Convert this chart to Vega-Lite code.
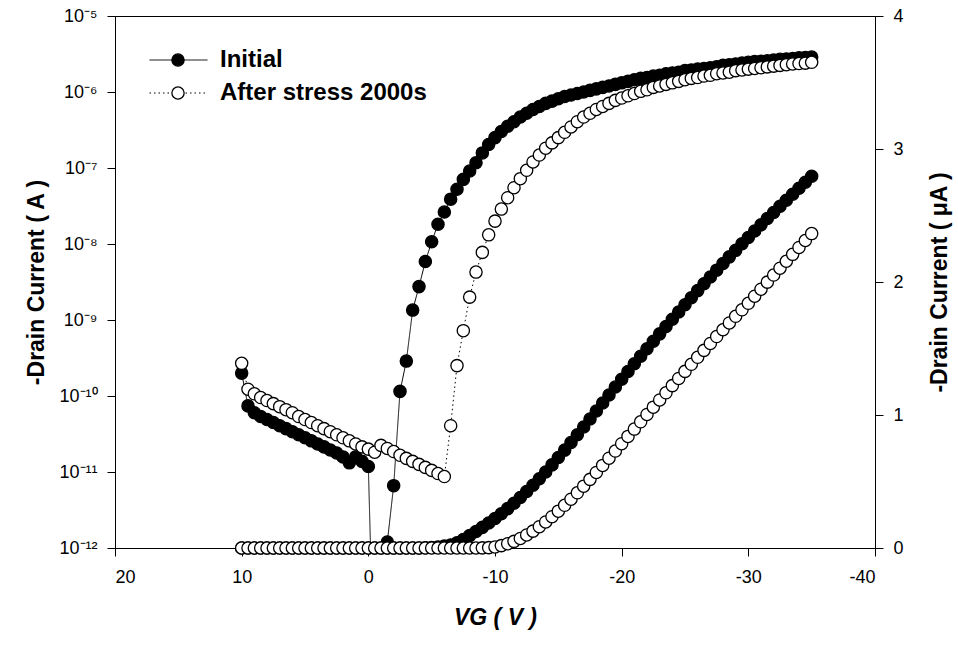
{
 "$schema": "https://vega.github.io/schema/vega-lite/v6.json",
 "width": 760,
 "height": 532,
 "autosize": {"type": "none"},
 "padding": {"left": 115, "top": 16, "right": 83, "bottom": 100},
 "background": "white",
 "config": {
  "font": "Liberation Sans",
  "view": {"stroke": "black", "strokeWidth": 1},
  "axis": {"grid": false, "domainColor": "black", "tickColor": "black", "labelColor": "black", "titleColor": "black", "tickSize": 8, "labelFontSize": 18, "titleFontSize": 23, "titleFontWeight": "bold", "labelPadding": 10, "labelFont": "Liberation Sans", "titleFont": "Liberation Sans"},
  "legend": {"padding": 0}
 },
 "data": {"values": [
  {"vg":10,"series":"Initial","ilog":2.00e-10,"ilin":0},
  {"vg":9.5,"series":"Initial","ilog":7.41e-11,"ilin":0},
  {"vg":9,"series":"Initial","ilog":6.03e-11,"ilin":0},
  {"vg":8.5,"series":"Initial","ilog":5.37e-11,"ilin":0},
  {"vg":8,"series":"Initial","ilog":4.90e-11,"ilin":0},
  {"vg":7.5,"series":"Initial","ilog":4.47e-11,"ilin":0},
  {"vg":7,"series":"Initial","ilog":4.07e-11,"ilin":0},
  {"vg":6.5,"series":"Initial","ilog":3.72e-11,"ilin":0},
  {"vg":6,"series":"Initial","ilog":3.39e-11,"ilin":0},
  {"vg":5.5,"series":"Initial","ilog":3.09e-11,"ilin":0},
  {"vg":5,"series":"Initial","ilog":2.82e-11,"ilin":0},
  {"vg":4.5,"series":"Initial","ilog":2.57e-11,"ilin":0},
  {"vg":4,"series":"Initial","ilog":2.34e-11,"ilin":0},
  {"vg":3.5,"series":"Initial","ilog":2.14e-11,"ilin":0},
  {"vg":3,"series":"Initial","ilog":1.95e-11,"ilin":0},
  {"vg":2.5,"series":"Initial","ilog":1.78e-11,"ilin":0},
  {"vg":2,"series":"Initial","ilog":1.58e-11,"ilin":0},
  {"vg":1.5,"series":"Initial","ilog":1.32e-11,"ilin":0},
  {"vg":1,"series":"Initial","ilog":1.58e-11,"ilin":0},
  {"vg":0.5,"series":"Initial","ilog":1.38e-11,"ilin":0},
  {"vg":0,"series":"Initial","ilog":1.18e-11,"ilin":0},
  {"vg":-0.5,"series":"Initial","ilog":1e-14,"ilin":0},
  {"vg":-1,"series":"Initial","ilog":1e-14,"ilin":0},
  {"vg":-1.5,"series":"Initial","ilog":1.20e-12,"ilin":0},
  {"vg":-2,"series":"Initial","ilog":6.61e-12,"ilin":0},
  {"vg":-2.5,"series":"Initial","ilog":1.15e-10,"ilin":0},
  {"vg":-3,"series":"Initial","ilog":2.88e-10,"ilin":0},
  {"vg":-3.5,"series":"Initial","ilog":1.35e-9,"ilin":0},
  {"vg":-4,"series":"Initial","ilog":2.75e-9,"ilin":0},
  {"vg":-4.5,"series":"Initial","ilog":5.89e-9,"ilin":0.002},
  {"vg":-5,"series":"Initial","ilog":1.07e-8,"ilin":0.004},
  {"vg":-5.5,"series":"Initial","ilog":1.82e-8,"ilin":0.008},
  {"vg":-6,"series":"Initial","ilog":2.63e-8,"ilin":0.014},
  {"vg":-6.5,"series":"Initial","ilog":3.89e-8,"ilin":0.023},
  {"vg":-7,"series":"Initial","ilog":5.25e-8,"ilin":0.040},
  {"vg":-7.5,"series":"Initial","ilog":7.08e-8,"ilin":0.064},
  {"vg":-8,"series":"Initial","ilog":9.12e-8,"ilin":0.093},
  {"vg":-8.5,"series":"Initial","ilog":1.17e-7,"ilin":0.124},
  {"vg":-9,"series":"Initial","ilog":1.58e-7,"ilin":0.155},
  {"vg":-9.5,"series":"Initial","ilog":2.04e-7,"ilin":0.188},
  {"vg":-10,"series":"Initial","ilog":2.51e-7,"ilin":0.222},
  {"vg":-10.5,"series":"Initial","ilog":3.02e-7,"ilin":0.258},
  {"vg":-11,"series":"Initial","ilog":3.55e-7,"ilin":0.296},
  {"vg":-11.5,"series":"Initial","ilog":4.07e-7,"ilin":0.337},
  {"vg":-12,"series":"Initial","ilog":4.68e-7,"ilin":0.380},
  {"vg":-12.5,"series":"Initial","ilog":5.25e-7,"ilin":0.425},
  {"vg":-13,"series":"Initial","ilog":5.89e-7,"ilin":0.472},
  {"vg":-13.5,"series":"Initial","ilog":6.46e-7,"ilin":0.521},
  {"vg":-14,"series":"Initial","ilog":7.08e-7,"ilin":0.572},
  {"vg":-14.5,"series":"Initial","ilog":7.59e-7,"ilin":0.625},
  {"vg":-15,"series":"Initial","ilog":8.13e-7,"ilin":0.680},
  {"vg":-15.5,"series":"Initial","ilog":8.71e-7,"ilin":0.736},
  {"vg":-16,"series":"Initial","ilog":9.12e-7,"ilin":0.793},
  {"vg":-16.5,"series":"Initial","ilog":9.55e-7,"ilin":0.851},
  {"vg":-17,"series":"Initial","ilog":1.00e-6,"ilin":0.910},
  {"vg":-17.5,"series":"Initial","ilog":1.05e-6,"ilin":0.970},
  {"vg":-18,"series":"Initial","ilog":1.10e-6,"ilin":1.030},
  {"vg":-18.5,"series":"Initial","ilog":1.15e-6,"ilin":1.090},
  {"vg":-19,"series":"Initial","ilog":1.20e-6,"ilin":1.150},
  {"vg":-19.5,"series":"Initial","ilog":1.26e-6,"ilin":1.210},
  {"vg":-20,"series":"Initial","ilog":1.32e-6,"ilin":1.269},
  {"vg":-20.5,"series":"Initial","ilog":1.38e-6,"ilin":1.327},
  {"vg":-21,"series":"Initial","ilog":1.45e-6,"ilin":1.385},
  {"vg":-21.5,"series":"Initial","ilog":1.51e-6,"ilin":1.442},
  {"vg":-22,"series":"Initial","ilog":1.55e-6,"ilin":1.498},
  {"vg":-22.5,"series":"Initial","ilog":1.62e-6,"ilin":1.554},
  {"vg":-23,"series":"Initial","ilog":1.66e-6,"ilin":1.610},
  {"vg":-23.5,"series":"Initial","ilog":1.74e-6,"ilin":1.665},
  {"vg":-24,"series":"Initial","ilog":1.78e-6,"ilin":1.720},
  {"vg":-24.5,"series":"Initial","ilog":1.82e-6,"ilin":1.775},
  {"vg":-25,"series":"Initial","ilog":1.91e-6,"ilin":1.829},
  {"vg":-25.5,"series":"Initial","ilog":1.95e-6,"ilin":1.882},
  {"vg":-26,"series":"Initial","ilog":2.00e-6,"ilin":1.935},
  {"vg":-26.5,"series":"Initial","ilog":2.04e-6,"ilin":1.987},
  {"vg":-27,"series":"Initial","ilog":2.09e-6,"ilin":2.038},
  {"vg":-27.5,"series":"Initial","ilog":2.14e-6,"ilin":2.089},
  {"vg":-28,"series":"Initial","ilog":2.24e-6,"ilin":2.139},
  {"vg":-28.5,"series":"Initial","ilog":2.29e-6,"ilin":2.189},
  {"vg":-29,"series":"Initial","ilog":2.34e-6,"ilin":2.238},
  {"vg":-29.5,"series":"Initial","ilog":2.40e-6,"ilin":2.287},
  {"vg":-30,"series":"Initial","ilog":2.46e-6,"ilin":2.335},
  {"vg":-30.5,"series":"Initial","ilog":2.51e-6,"ilin":2.383},
  {"vg":-31,"series":"Initial","ilog":2.54e-6,"ilin":2.430},
  {"vg":-31.5,"series":"Initial","ilog":2.57e-6,"ilin":2.477},
  {"vg":-32,"series":"Initial","ilog":2.63e-6,"ilin":2.523},
  {"vg":-32.5,"series":"Initial","ilog":2.69e-6,"ilin":2.569},
  {"vg":-33,"series":"Initial","ilog":2.72e-6,"ilin":2.615},
  {"vg":-33.5,"series":"Initial","ilog":2.75e-6,"ilin":2.660},
  {"vg":-34,"series":"Initial","ilog":2.82e-6,"ilin":2.705},
  {"vg":-34.5,"series":"Initial","ilog":2.85e-6,"ilin":2.750},
  {"vg":-35,"series":"Initial","ilog":2.88e-6,"ilin":2.795},
  {"vg":10,"series":"After stress 2000s","ilog":2.69e-10,"ilin":0},
  {"vg":9.5,"series":"After stress 2000s","ilog":1.23e-10,"ilin":0},
  {"vg":9,"series":"After stress 2000s","ilog":1.07e-10,"ilin":0},
  {"vg":8.5,"series":"After stress 2000s","ilog":9.55e-11,"ilin":0},
  {"vg":8,"series":"After stress 2000s","ilog":8.71e-11,"ilin":0},
  {"vg":7.5,"series":"After stress 2000s","ilog":7.94e-11,"ilin":0},
  {"vg":7,"series":"After stress 2000s","ilog":7.24e-11,"ilin":0},
  {"vg":6.5,"series":"After stress 2000s","ilog":6.61e-11,"ilin":0},
  {"vg":6,"series":"After stress 2000s","ilog":6.03e-11,"ilin":0},
  {"vg":5.5,"series":"After stress 2000s","ilog":5.37e-11,"ilin":0},
  {"vg":5,"series":"After stress 2000s","ilog":4.90e-11,"ilin":0},
  {"vg":4.5,"series":"After stress 2000s","ilog":4.47e-11,"ilin":0},
  {"vg":4,"series":"After stress 2000s","ilog":4.07e-11,"ilin":0},
  {"vg":3.5,"series":"After stress 2000s","ilog":3.72e-11,"ilin":0},
  {"vg":3,"series":"After stress 2000s","ilog":3.39e-11,"ilin":0},
  {"vg":2.5,"series":"After stress 2000s","ilog":3.09e-11,"ilin":0},
  {"vg":2,"series":"After stress 2000s","ilog":2.82e-11,"ilin":0},
  {"vg":1.5,"series":"After stress 2000s","ilog":2.57e-11,"ilin":0},
  {"vg":1,"series":"After stress 2000s","ilog":2.34e-11,"ilin":0},
  {"vg":0.5,"series":"After stress 2000s","ilog":2.14e-11,"ilin":0},
  {"vg":0,"series":"After stress 2000s","ilog":2.00e-11,"ilin":0},
  {"vg":-0.5,"series":"After stress 2000s","ilog":1.82e-11,"ilin":0},
  {"vg":-1,"series":"After stress 2000s","ilog":2.24e-11,"ilin":0},
  {"vg":-1.5,"series":"After stress 2000s","ilog":2.04e-11,"ilin":0},
  {"vg":-2,"series":"After stress 2000s","ilog":1.86e-11,"ilin":0},
  {"vg":-2.5,"series":"After stress 2000s","ilog":1.66e-11,"ilin":0},
  {"vg":-3,"series":"After stress 2000s","ilog":1.51e-11,"ilin":0},
  {"vg":-3.5,"series":"After stress 2000s","ilog":1.38e-11,"ilin":0},
  {"vg":-4,"series":"After stress 2000s","ilog":1.26e-11,"ilin":0},
  {"vg":-4.5,"series":"After stress 2000s","ilog":1.15e-11,"ilin":0},
  {"vg":-5,"series":"After stress 2000s","ilog":1.05e-11,"ilin":0},
  {"vg":-5.5,"series":"After stress 2000s","ilog":9.55e-12,"ilin":0},
  {"vg":-6,"series":"After stress 2000s","ilog":8.71e-12,"ilin":0},
  {"vg":-6.5,"series":"After stress 2000s","ilog":4.07e-11,"ilin":0},
  {"vg":-7,"series":"After stress 2000s","ilog":2.51e-10,"ilin":0},
  {"vg":-7.5,"series":"After stress 2000s","ilog":7.24e-10,"ilin":0},
  {"vg":-8,"series":"After stress 2000s","ilog":2.00e-9,"ilin":0},
  {"vg":-8.5,"series":"After stress 2000s","ilog":4.27e-9,"ilin":0},
  {"vg":-9,"series":"After stress 2000s","ilog":7.76e-9,"ilin":0.001},
  {"vg":-9.5,"series":"After stress 2000s","ilog":1.32e-8,"ilin":0.003},
  {"vg":-10,"series":"After stress 2000s","ilog":2.00e-8,"ilin":0.008},
  {"vg":-10.5,"series":"After stress 2000s","ilog":2.88e-8,"ilin":0.018},
  {"vg":-11,"series":"After stress 2000s","ilog":4.07e-8,"ilin":0.032},
  {"vg":-11.5,"series":"After stress 2000s","ilog":5.50e-8,"ilin":0.050},
  {"vg":-12,"series":"After stress 2000s","ilog":7.24e-8,"ilin":0.072},
  {"vg":-12.5,"series":"After stress 2000s","ilog":9.33e-8,"ilin":0.098},
  {"vg":-13,"series":"After stress 2000s","ilog":1.20e-7,"ilin":0.127},
  {"vg":-13.5,"series":"After stress 2000s","ilog":1.48e-7,"ilin":0.160},
  {"vg":-14,"series":"After stress 2000s","ilog":1.82e-7,"ilin":0.196},
  {"vg":-14.5,"series":"After stress 2000s","ilog":2.14e-7,"ilin":0.235},
  {"vg":-15,"series":"After stress 2000s","ilog":2.51e-7,"ilin":0.277},
  {"vg":-15.5,"series":"After stress 2000s","ilog":2.95e-7,"ilin":0.321},
  {"vg":-16,"series":"After stress 2000s","ilog":3.47e-7,"ilin":0.367},
  {"vg":-16.5,"series":"After stress 2000s","ilog":4.07e-7,"ilin":0.415},
  {"vg":-17,"series":"After stress 2000s","ilog":4.68e-7,"ilin":0.465},
  {"vg":-17.5,"series":"After stress 2000s","ilog":5.25e-7,"ilin":0.516},
  {"vg":-18,"series":"After stress 2000s","ilog":5.89e-7,"ilin":0.568},
  {"vg":-18.5,"series":"After stress 2000s","ilog":6.46e-7,"ilin":0.621},
  {"vg":-19,"series":"After stress 2000s","ilog":7.08e-7,"ilin":0.675},
  {"vg":-19.5,"series":"After stress 2000s","ilog":7.76e-7,"ilin":0.729},
  {"vg":-20,"series":"After stress 2000s","ilog":8.32e-7,"ilin":0.784},
  {"vg":-20.5,"series":"After stress 2000s","ilog":8.91e-7,"ilin":0.839},
  {"vg":-21,"series":"After stress 2000s","ilog":9.55e-7,"ilin":0.894},
  {"vg":-21.5,"series":"After stress 2000s","ilog":1.02e-6,"ilin":0.949},
  {"vg":-22,"series":"After stress 2000s","ilog":1.07e-6,"ilin":1.004},
  {"vg":-22.5,"series":"After stress 2000s","ilog":1.15e-6,"ilin":1.059},
  {"vg":-23,"series":"After stress 2000s","ilog":1.20e-6,"ilin":1.113},
  {"vg":-23.5,"series":"After stress 2000s","ilog":1.26e-6,"ilin":1.167},
  {"vg":-24,"series":"After stress 2000s","ilog":1.32e-6,"ilin":1.221},
  {"vg":-24.5,"series":"After stress 2000s","ilog":1.38e-6,"ilin":1.275},
  {"vg":-25,"series":"After stress 2000s","ilog":1.45e-6,"ilin":1.328},
  {"vg":-25.5,"series":"After stress 2000s","ilog":1.51e-6,"ilin":1.381},
  {"vg":-26,"series":"After stress 2000s","ilog":1.55e-6,"ilin":1.434},
  {"vg":-26.5,"series":"After stress 2000s","ilog":1.62e-6,"ilin":1.486},
  {"vg":-27,"series":"After stress 2000s","ilog":1.66e-6,"ilin":1.538},
  {"vg":-27.5,"series":"After stress 2000s","ilog":1.74e-6,"ilin":1.590},
  {"vg":-28,"series":"After stress 2000s","ilog":1.78e-6,"ilin":1.641},
  {"vg":-28.5,"series":"After stress 2000s","ilog":1.82e-6,"ilin":1.692},
  {"vg":-29,"series":"After stress 2000s","ilog":1.91e-6,"ilin":1.742},
  {"vg":-29.5,"series":"After stress 2000s","ilog":1.95e-6,"ilin":1.791},
  {"vg":-30,"series":"After stress 2000s","ilog":2.00e-6,"ilin":1.840},
  {"vg":-30.5,"series":"After stress 2000s","ilog":2.04e-6,"ilin":1.893},
  {"vg":-31,"series":"After stress 2000s","ilog":2.09e-6,"ilin":1.946},
  {"vg":-31.5,"series":"After stress 2000s","ilog":2.14e-6,"ilin":1.999},
  {"vg":-32,"series":"After stress 2000s","ilog":2.19e-6,"ilin":2.052},
  {"vg":-32.5,"series":"After stress 2000s","ilog":2.24e-6,"ilin":2.104},
  {"vg":-33,"series":"After stress 2000s","ilog":2.29e-6,"ilin":2.156},
  {"vg":-33.5,"series":"After stress 2000s","ilog":2.34e-6,"ilin":2.208},
  {"vg":-34,"series":"After stress 2000s","ilog":2.37e-6,"ilin":2.260},
  {"vg":-34.5,"series":"After stress 2000s","ilog":2.40e-6,"ilin":2.312},
  {"vg":-35,"series":"After stress 2000s","ilog":2.46e-6,"ilin":2.364}
 ]},
 "encoding": {
  "x": {"field": "vg", "type": "quantitative",
   "scale": {"domain": [-40, 20], "reverse": true, "nice": false, "zero": false},
   "axis": {"values": [20, 10, 0, -10, -20, -30, -40], "labelExpr": "toString(datum.value)", "labelPadding": 12, "title": "VG ( V )", "titleFontStyle": "italic", "titlePadding": 20}}
 },
 "layer": [
  {
   "layer": [
    {
     "mark": {"type": "line", "clip": true, "color": "black", "strokeWidth": 1},
     "encoding": {
      "y": {"field": "ilog", "type": "quantitative",
       "scale": {"type": "log", "domain": [1e-12, 1e-5], "nice": false},
       "axis": {"orient": "left", "values": [1e-12, 1e-11, 1e-10, 1e-9, 1e-8, 1e-7, 1e-6, 1e-5],
        "labelExpr": "datum.value > 5e-6 ? '10⁻⁵' : datum.value > 5e-7 ? '10⁻⁶' : datum.value > 5e-8 ? '10⁻⁷' : datum.value > 5e-9 ? '10⁻⁸' : datum.value > 5e-10 ? '10⁻⁹' : datum.value > 5e-11 ? '10⁻¹⁰' : datum.value > 5e-12 ? '10⁻¹¹' : '10⁻¹²'",
        "title": "-Drain Current ( A )", "titlePadding": 10}},
      "strokeDash": {"field": "series", "type": "nominal",
       "scale": {"domain": ["Initial", "After stress 2000s"], "range": [[1, 0], [1.5, 3]]},
       "legend": {"orient": "none", "legendX": 34, "legendY": 27.5, "title": null, "symbolType": "stroke", "symbolSize": 3364, "symbolStrokeWidth": 1, "symbolStrokeColor": "black", "labelFontSize": 24, "labelFontWeight": "bold", "labelColor": "black", "labelOffset": 12, "labelLimit": 500, "clipHeight": 33, "rowPadding": 0}}
     }
    },
    {
     "mark": {"type": "point", "shape": "circle", "filled": true, "clip": true, "size": 150, "stroke": "black", "strokeWidth": 1.3, "opacity": 1},
     "encoding": {
      "y": {"field": "ilog", "type": "quantitative"},
      "fill": {"field": "series", "type": "nominal", "sort": "descending",
       "scale": {"range": ["black", "white"]},
       "legend": {"orient": "none", "legendX": 56, "legendY": 27.5, "title": null, "symbolType": "circle", "symbolSize": 150, "symbolStrokeColor": "black", "symbolStrokeWidth": 1.3, "symbolOpacity": 1, "labelExpr": "''", "labelFontSize": 1, "clipHeight": 33, "rowPadding": 0}}
     }
    }
   ]
  },
  {
   "mark": {"type": "point", "shape": "circle", "filled": true, "size": 150, "stroke": "black", "strokeWidth": 1.3, "opacity": 1},
   "encoding": {
    "y": {"field": "ilin", "type": "quantitative",
     "scale": {"domain": [0, 4], "nice": false},
     "axis": {"orient": "right", "values": [0, 1, 2, 3, 4], "title": "-Drain Current ( μA )", "titleAngle": 270, "titleBaseline": "top", "titlePadding": 25}},
    "fill": {"field": "series", "type": "nominal", "sort": "descending"}
   }
  }
 ],
 "resolve": {"scale": {"y": "independent"}}
}
